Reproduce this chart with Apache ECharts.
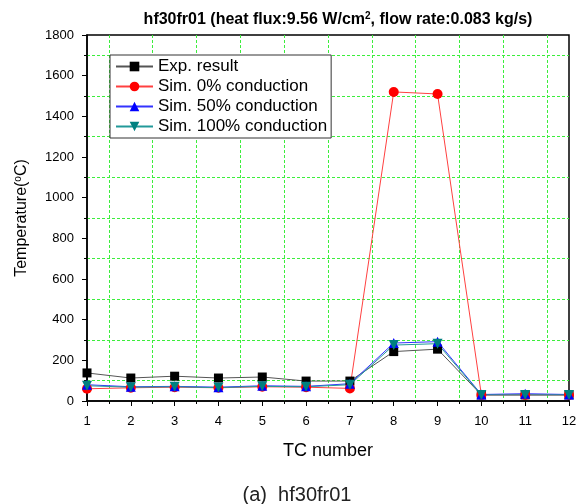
<!DOCTYPE html>
<html>
<head>
<meta charset="utf-8">
<script src="https://cdn.jsdelivr.net/npm/echarts@6/dist/echarts.min.js"></script>
<style>
  html, body { margin: 0; padding: 0; background: #fff; }
  #chart { width: 587px; height: 504px; }
</style>
</head>
<body>
<div id="chart"></div>
<script>
// TC positions 1..12
const tcNumber = [1, 2, 3, 4, 5, 6, 7, 8, 9, 10, 11, 12];
const expResult = [138, 113, 122, 113, 118, 98, 98, 243, 255, 30, 30, 30];
const sim0 = [60, 65, 68, 65, 70, 68, 62, 1520, 1510, 30, 30, 30];
const sim50 = [80, 70, 72, 68, 75, 72, 85, 285, 292, 32, 36, 32];
const sim100 = [75, 68, 70, 66, 72, 70, 80, 275, 282, 30, 30, 30];

const pairs = (ys) => tcNumber.map((x, i) => [x, ys[i]]);

const chart = echarts.init(document.getElementById("chart"));
const font = "Liberation Sans, Arial, sans-serif";
const gridGreen = "#3cee3c";

const option = {
  animation: false,
  textStyle: { fontFamily: font },
  title: [
    {
      text: "{t|hf30fr01 (heat flux:9.56 W/cm}{s|2}{t|, flow rate:0.083 kg/s)}",
      left: 333,
      top: 6,
      textAlign: "center",
      textStyle: {
        rich: {
          t: { fontFamily: font, fontWeight: "bold", fontSize: 16, lineHeight: 18, color: "#000" },
          s: { fontFamily: font, fontWeight: "bold", fontSize: 10, lineHeight: 18, color: "#000", verticalAlign: "top", padding: [0, 0, 4, 0] },
        },
      },
    },
    {
      text: "(a)  hf30fr01",
      left: 292,
      top: 480,
      textAlign: "center",
      textStyle: { fontFamily: font, fontWeight: "normal", fontSize: 20, color: "#222" },
    },
  ],
  grid: {
    left: 87,
    right: 18,
    top: 35,
    bottom: 103,
    show: true,
    borderColor: "#000",
    borderWidth: 1.5,
    backgroundColor: "transparent",
  },
  legend: {
    orient: "vertical",
    left: 110,
    top: 55,
    itemWidth: 37,
    itemHeight: 12,
    itemGap: 1,
    padding: [2, 4, 2, 5],
    borderColor: "#333",
    borderWidth: 1,
    backgroundColor: "#fff",
    textStyle: { fontFamily: font, fontSize: 17, lineHeight: 19, color: "#000" },
    data: ["Exp. result", "Sim. 0% conduction", "Sim. 50% conduction", "Sim. 100% conduction"],
  },
  xAxis: {
    type: "value",
    min: 1,
    max: 12,
    interval: 1,
    name: "TC number",
    nameLocation: "middle",
    nameGap: 41,
    nameTextStyle: { fontFamily: font, fontSize: 18, color: "#000" },
    axisLine: { lineStyle: { color: "#000", width: 1.5 } },
    axisTick: { length: 5, lineStyle: { color: "#000" } },
    minorTick: { show: true, splitNumber: 2, length: 3, lineStyle: { color: "#000" } },
    splitLine: { show: false },
    minorSplitLine: { show: true, lineStyle: { color: gridGreen, type: [3, 2], width: 1 } },
    axisLabel: { fontFamily: font, fontSize: 13, color: "#000", margin: 14, formatter: (v) => String(v) },
  },
  yAxis: {
    type: "value",
    min: 0,
    max: 1800,
    interval: 200,
    name: "{t|Temperature(}{s|o}{t|C)}",
    nameLocation: "middle",
    nameGap: 56,
    nameTextStyle: {
      rich: {
        t: { fontFamily: font, fontSize: 16, lineHeight: 18, color: "#000" },
        s: { fontFamily: font, fontSize: 10, lineHeight: 18, color: "#000", verticalAlign: "top", padding: [0, 0, 4, 0] },
      },
    },
    axisLine: { show: true, lineStyle: { color: "#000", width: 1.5 } },
    axisTick: { show: true, length: 5, lineStyle: { color: "#000" } },
    minorTick: { show: true, splitNumber: 2, length: 3, lineStyle: { color: "#000" } },
    splitLine: { show: false },
    minorSplitLine: { show: true, lineStyle: { color: gridGreen, type: [3, 2], width: 1 } },
    axisLabel: { fontFamily: font, fontSize: 13, color: "#000", margin: 13, formatter: (v) => String(v) },
  },
  series: [
    {
      name: "Exp. result",
      type: "line",
      data: pairs(expResult),
      symbol: "rect",
      symbolSize: 9,
      itemStyle: { color: "#000" },
      lineStyle: { color: "#555", width: 1 },
    },
    {
      name: "Sim. 0% conduction",
      type: "line",
      data: pairs(sim0),
      symbol: "circle",
      symbolSize: 10,
      itemStyle: { color: "#ff0000" },
      lineStyle: { color: "#ff4040", width: 1 },
    },
    {
      name: "Sim. 50% conduction",
      type: "line",
      data: pairs(sim50),
      symbol: "triangle",
      symbolSize: 10,
      itemStyle: { color: "#0000ff" },
      lineStyle: { color: "#3333ff", width: 1 },
    },
    {
      name: "Sim. 100% conduction",
      type: "line",
      data: pairs(sim100),
      symbol: "triangle",
      symbolRotate: 180,
      symbolSize: 10,
      itemStyle: { color: "#008080" },
      lineStyle: { color: "#229999", width: 1 },
    },
  ],
};

chart.setOption(option);
</script>
</body>
</html>
